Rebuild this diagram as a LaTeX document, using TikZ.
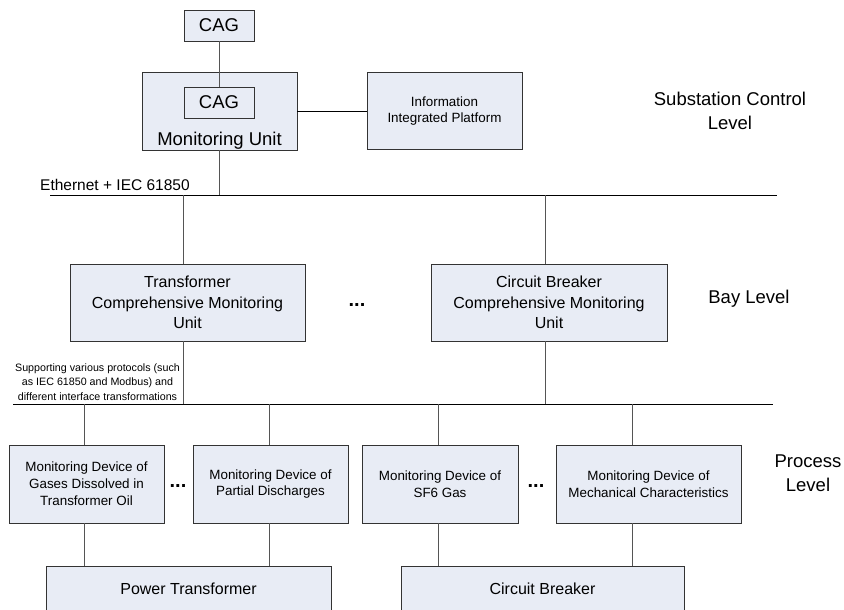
\documentclass[tikz,border=0pt]{standalone}
\usepackage{fontspec}
\setmainfont{Liberation Sans}
\definecolor{boxfill}{HTML}{E8ECF5}
\definecolor{boxline}{HTML}{333333}
\definecolor{connline}{HTML}{555555}
\newcommand\fsA{\fontsize{18.5}{24}\selectfont}
\newcommand\fsB{\fontsize{16}{20.5}\selectfont}
\newcommand\fsC{\fontsize{13.4}{16.9}\selectfont}
\newcommand\fsD{\fontsize{10.7}{14.5}\selectfont}
\newcommand\fsE{\fontsize{15.5}{19}\selectfont}
\newcommand\fsDots{\bfseries\fontsize{20}{24}\selectfont}
\begin{document}
\begin{tikzpicture}[x=1pt,y=-1pt,
  box/.style={draw=boxline, fill=boxfill, line width=0.9pt, inner sep=0pt, align=center},
  conn/.style={draw=connline, line width=0.9pt},
  bus/.style={draw=black, line width=1pt},
  lbl/.style={inner sep=0pt, align=center}]
\useasboundingbox (0,0) rectangle (844,610);
\clip (0,0) rectangle (844,610);
% substation control level
\node[box, minimum width=70pt, minimum height=31pt, font=\fsA] (cagTop) at (219,25.5) {CAG};
\node[box, minimum width=155pt, minimum height=78pt] (mu) at (219.5,111) {};
\node[box, minimum width=70pt, minimum height=31pt, font=\fsA] (cagIn) at (219,102.5) {CAG};
\node[lbl, font=\fsA, anchor=base] (muText) at (219.5,145) {Monitoring Unit};
\node[box, minimum width=155pt, minimum height=77pt, font=\fsC] (iip) at (444.5,111) {Information\\Integrated Platform};
\node[lbl, font=\fsA] (lvl1) at (730,111) {Substation Control\\Level};
% bus 1
\coordinate (b1L) at (50,195);
\coordinate (b1R) at (777,195);
\node[lbl, font=\fsE, anchor=base west] (eth) at (40,190.5) {Ethernet + IEC 61850};
% bay level
\node[box, minimum width=235pt, minimum height=77pt, font=\fsB] (tcmu) at (187.5,302.5) {Transformer\\Comprehensive Monitoring\\Unit};
\node[box, minimum width=236pt, minimum height=77pt, font=\fsB] (cbcmu) at (549,302.5) {Circuit Breaker\\Comprehensive Monitoring\\Unit};
\node[lbl, font=\fsDots] (dots1) at (357,305) {...};
\node[lbl, font=\fsA] (lvl2) at (749,299) {Bay Level};
% bus 2
\coordinate (b2L) at (13,404);
\coordinate (b2R) at (773,404);
\node[lbl, font=\fsD] (proto) at (97.5,382) {Supporting various protocols (such\\as IEC 61850 and Modbus) and\\different interface transformations};
% process level
\node[box, minimum width=155pt, minimum height=78pt, font=\fsC] (p1) at (86.5,484) {Monitoring Device of\\Gases Dissolved in\\Transformer Oil};
\node[box, minimum width=155pt, minimum height=78pt, font=\fsC] (p2) at (270.5,484) {Monitoring Device of\\Partial Discharges};
\node[box, minimum width=156pt, minimum height=78pt, font=\fsC] (p3) at (440,484) {Monitoring Device of\\SF6 Gas};
\node[box, minimum width=185pt, minimum height=78pt, font=\fsC] (p4) at (648.5,484) {Monitoring Device of\\Mechanical Characteristics};
\node[lbl, font=\fsDots] (dots2) at (178,486) {...};
\node[lbl, font=\fsDots] (dots3) at (536,486) {...};
\node[lbl, font=\fsA] (lvl3) at (808,473) {Process\\Level};
% equipment (cut off by the lower edge)
\node[box, minimum width=285pt, minimum height=46pt, font=\fsB] (pt) at (188.5,589) {Power Transformer};
\node[box, minimum width=283pt, minimum height=46pt, font=\fsB] (cb) at (542.5,589) {Circuit Breaker};
% connectors
\draw[conn] (cagTop.south) -- (cagIn.north);
\draw[conn, draw=black] (mu.east) -- (iip.west);
\draw[conn] (mu.south) -- (mu.south |- b1L);
\draw[bus] (b1L) -- (b1R);
\draw[conn] ([xshift=-4.5pt]tcmu.north |- b1L) -- ([xshift=-4.5pt]tcmu.north);
\draw[conn] ([xshift=-4pt]cbcmu.north |- b1L) -- ([xshift=-4pt]cbcmu.north);
\draw[conn] ([xshift=-4.5pt]tcmu.south) -- ([xshift=-4.5pt]tcmu.south |- b2L);
\draw[conn] ([xshift=-4pt]cbcmu.south) -- ([xshift=-4pt]cbcmu.south |- b2L);
\draw[bus] (b2L) -- (b2R);
\draw[conn] ([xshift=-2.5pt]p1.north |- b2L) -- ([xshift=-2.5pt]p1.north);
\draw[conn] ([xshift=-1.5pt]p2.north |- b2L) -- ([xshift=-1.5pt]p2.north);
\draw[conn] ([xshift=-2pt]p3.north |- b2L) -- ([xshift=-2pt]p3.north);
\draw[conn] ([xshift=-16.5pt]p4.north |- b2L) -- ([xshift=-16.5pt]p4.north);
\draw[conn] ([xshift=-2.5pt]p1.south) -- ([xshift=-2.5pt]p1.south |- pt.north);
\draw[conn] ([xshift=-1.5pt]p2.south) -- ([xshift=-1.5pt]p2.south |- pt.north);
\draw[conn] ([xshift=-2pt]p3.south) -- ([xshift=-2pt]p3.south |- cb.north);
\draw[conn] ([xshift=-16.5pt]p4.south) -- ([xshift=-16.5pt]p4.south |- cb.north);
\end{tikzpicture}
\end{document}
